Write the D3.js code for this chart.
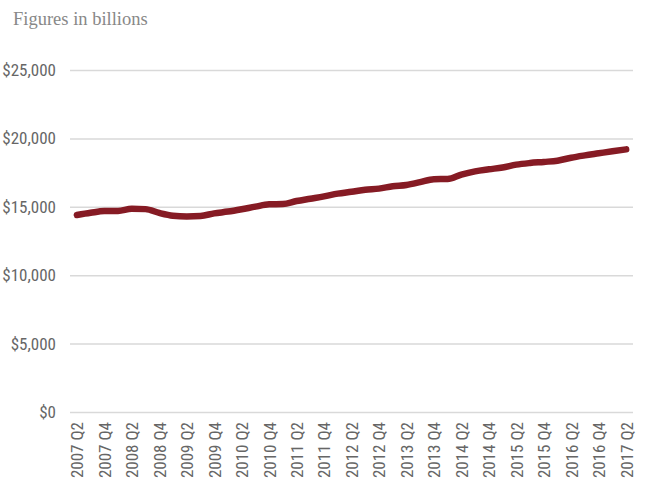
<!DOCTYPE html>
<html>
<head>
<meta charset="utf-8">
<script src="https://cdn.jsdelivr.net/npm/d3@7"></script>
<style>
  body { margin: 0; background: #fff; }
  svg { display: block; }
  .tick text { font-family: "Liberation Sans Narrow", "Roboto Condensed", "Liberation Sans", sans-serif; fill: #666; }
</style>
</head>
<body>
<div class="svg"></div>
<script>
var quarters = [
	'2007 Q2', '2007 Q3', '2007 Q4',
	'2008 Q1', '2008 Q2', '2008 Q3', '2008 Q4',
	'2009 Q1', '2009 Q2', '2009 Q3', '2009 Q4',
	'2010 Q1', '2010 Q2', '2010 Q3', '2010 Q4',
	'2011 Q1', '2011 Q2', '2011 Q3', '2011 Q4',
	'2012 Q1', '2012 Q2', '2012 Q3', '2012 Q4',
	'2013 Q1', '2013 Q2', '2013 Q3', '2013 Q4',
	'2014 Q1', '2014 Q2', '2014 Q3', '2014 Q4',
	'2015 Q1', '2015 Q2', '2015 Q3', '2015 Q4',
	'2016 Q1', '2016 Q2', '2016 Q3', '2016 Q4',
	'2017 Q1', '2017 Q2'
];

// billions of dollars
var values = [
	14400, 14560, 14690,
	14700, 14850, 14830, 14550,
	14350, 14300, 14330, 14520,
	14650, 14820, 15010, 15180,
	15200, 15420, 15590, 15760,
	15960, 16100, 16250, 16330,
	16500, 16600, 16800, 17020,
	17030, 17350, 17590, 17740,
	17870, 18080, 18200, 18280,
	18370, 18590, 18760, 18910,
	19060, 19200
];

var yTicks = [0, 5000, 10000, 15000, 20000, 25000];

var width = 653, height = 480;
var margin = {top: 70, right: 20, bottom: 68, left: 70};

var svg = d3.select('body .svg').append('svg')
	.attr('width', width)
	.attr('height', height);

svg.append('text')
	.attr('x', 13)
	.attr('y', 25)
	.attr('font-family', '"Liberation Serif", serif')
	.attr('font-size', 18.5)
	.attr('fill', '#888')
	.text('Figures in billions');

var x = d3.scalePoint()
	.domain(quarters)
	.range([margin.left, width - margin.right])
	.padding(0.5);

var y = d3.scaleLinear()
	.domain([0, 25000])
	.range([height - margin.bottom, margin.top]);

// gridlines + y labels
var yAxis = svg.append('g')
	.attr('transform', 'translate(' + margin.left + ',0)')
	.call(d3.axisLeft(y)
		.tickValues(yTicks)
		.tickSize(-(width - margin.left - margin.right))
		.tickPadding(14)
		.tickFormat(function(d) { return '$' + d3.format(',')(d); }));

yAxis.select('.domain').remove();
yAxis.selectAll('.tick line')
	.attr('stroke', '#d9d9d9')
	.attr('stroke-width', 1.5);
yAxis.selectAll('.tick text')
	.attr('font-size', 17);

// x labels, every other quarter
var xAxis = svg.append('g')
	.attr('transform', 'translate(0,' + (height - margin.bottom) + ')')
	.call(d3.axisBottom(x)
		.tickValues(quarters.filter(function(d, i) { return i % 2 === 0; }))
		.tickSize(0)
		.tickPadding(0));

xAxis.select('.domain').remove();
xAxis.selectAll('.tick text')
	.attr('font-size', 17)
	.attr('text-anchor', 'end')
	.attr('dy', '0.35em')
	.attr('transform', 'translate(0,10) rotate(-90)')
	.attr('x', 0)
	.attr('y', 0);

var line = d3.line()
	.x(function(d, i) { return x(quarters[i]); })
	.y(function(d) { return y(d); })
	.curve(d3.curveMonotoneX);

svg.append('path')
	.datum(values)
	.attr('fill', 'none')
	.attr('stroke', '#861b24')
	.attr('stroke-width', 6.5)
	.attr('stroke-linecap', 'round')
	.attr('stroke-linejoin', 'round')
	.attr('d', line);
</script>
</body>
</html>
